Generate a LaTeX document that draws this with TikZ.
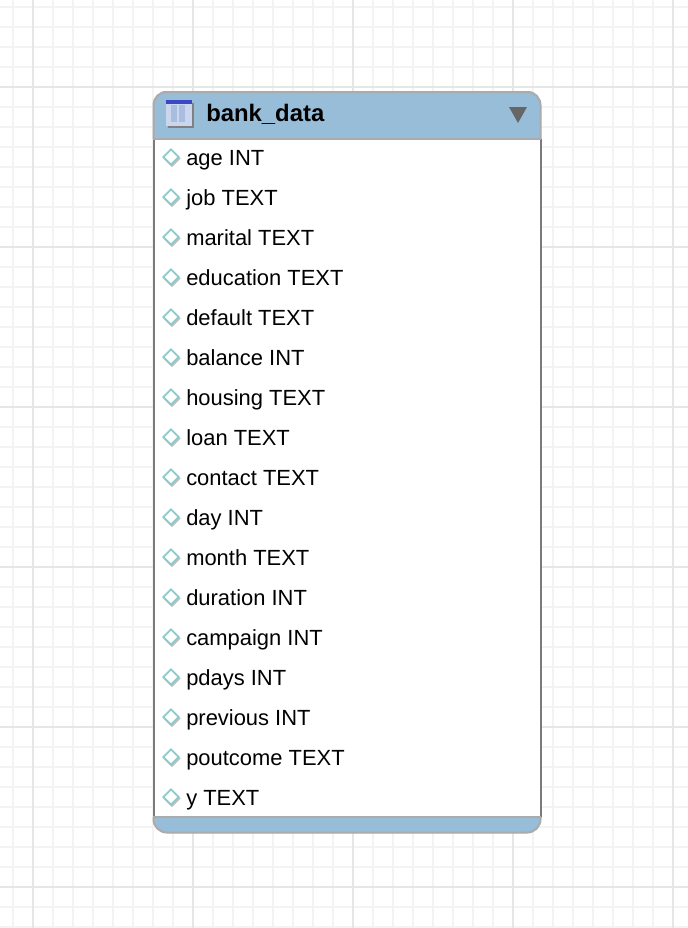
\documentclass[tikz,border=0pt]{standalone}
\usepackage{fontspec}
\setmainfont{Liberation Sans}
\usetikzlibrary{shapes.geometric}
\definecolor{gridminor}{HTML}{F3F3F3}
\definecolor{gridmajor}{HTML}{E6E6E6}
\definecolor{headblue}{HTML}{97BDD9}
\definecolor{edgegray}{HTML}{ABABAB}
\definecolor{sidegray}{HTML}{7A7A7A}
\definecolor{diamondteal}{HTML}{8CCBCB}
\definecolor{iconbody}{HTML}{C9D6EE}
\definecolor{iconcol}{HTML}{A9BEDF}
\definecolor{iconbar}{HTML}{3B48C6}
\tikzset{
    rowtext/.style={inner sep=0pt,font=\fontsize{16.45pt}{18pt}\selectfont},
    titletext/.style={anchor=base west,inner sep=0pt,font=\fontsize{17.9pt}{20pt}\selectfont\bfseries},
    rowmark/.style={diamond,draw=diamondteal,fill=white,line width=1.3pt,inner sep=0pt,minimum width=12pt,minimum height=12pt},
    markshadow/.style={diamond,fill=black!25,inner sep=0pt,minimum width=13pt,minimum height=13pt}
}
\begin{document}
\begin{tikzpicture}[x=0.75pt,y=-0.75pt]
    \useasboundingbox (0,0) rectangle (688,928);
    \fill[white] (0,0) rectangle (688,928);

    % grid
    \foreach \gx in {13,33,...,673} \draw[gridminor,line width=1.3pt] (\gx,0)--(\gx,928);
    \foreach \gy in {7,27,...,927} \draw[gridminor,line width=1.3pt] (0,\gy)--(688,\gy);
    \foreach \gx in {33,193,353,513,673} \draw[gridmajor,line width=1.3pt] (\gx,0)--(\gx,928);
    \foreach \gy in {87,247,407,567,727,887} \draw[gridmajor,line width=1.3pt] (0,\gy)--(688,\gy);

    % table
    \fill[headblue,rounded corners=10pt] (153,160) -- (153,91) -- (541,91) -- (541,160) -- cycle;
    \fill[headblue,rounded corners=10pt] (153,790) -- (153,833) -- (541,833) -- (541,790) -- cycle;
    \fill[white] (153,139) rectangle (541,817);

    \draw[sidegray,line width=1.5pt] (153.5,139)--(153.5,817);
    \draw[sidegray,line width=1.5pt] (540.5,139)--(540.5,817);
    \draw[edgegray,line width=1.5pt,rounded corners=10pt] (153.5,139) -- (153.5,92) -- (540.5,92) -- (540.5,139);
    \draw[edgegray,line width=1.5pt] (153,139)--(541,139);
    \draw[edgegray,line width=1.5pt] (153,817)--(541,817);
    \draw[edgegray,line width=1.5pt,rounded corners=10pt] (153.5,817) -- (153.5,832.5) -- (540.5,832.5) -- (540.5,817);

    % icon
    \fill[black!50] (168,103) rectangle (194,128);
    \fill[iconbody] (166,100) rectangle (192,126);
    \fill[iconcol] (171,105) rectangle (177,122);
    \fill[iconcol] (179,105) rectangle (185,122);
    \fill[iconbar] (166,100) rectangle (192,104);

    \node[titletext] (title) at (206,121) {bank\_data};
    \fill[black!60] (509,107) -- (527,107) -- (518,123) -- cycle;

    % columns
    \foreach \rowno/\rowname in {0/age INT,1/job TEXT,2/marital TEXT,3/education TEXT,4/default TEXT,5/balance INT,6/housing TEXT,7/loan TEXT,8/contact TEXT,9/day INT,10/month TEXT,11/duration INT,12/campaign INT,13/pdays INT,14/previous INT,15/poutcome TEXT,16/y TEXT}
    {
        \node[markshadow] (shadow\rowno) at (172,{158.5+40*\rowno}) {};
        \node[rowmark] (mark\rowno) at (171,{157+40*\rowno}) {};
        \node[rowtext,anchor=base west] (row\rowno) at (186,{165+40*\rowno}) {\rowname};
    }
\end{tikzpicture}
\end{document}
